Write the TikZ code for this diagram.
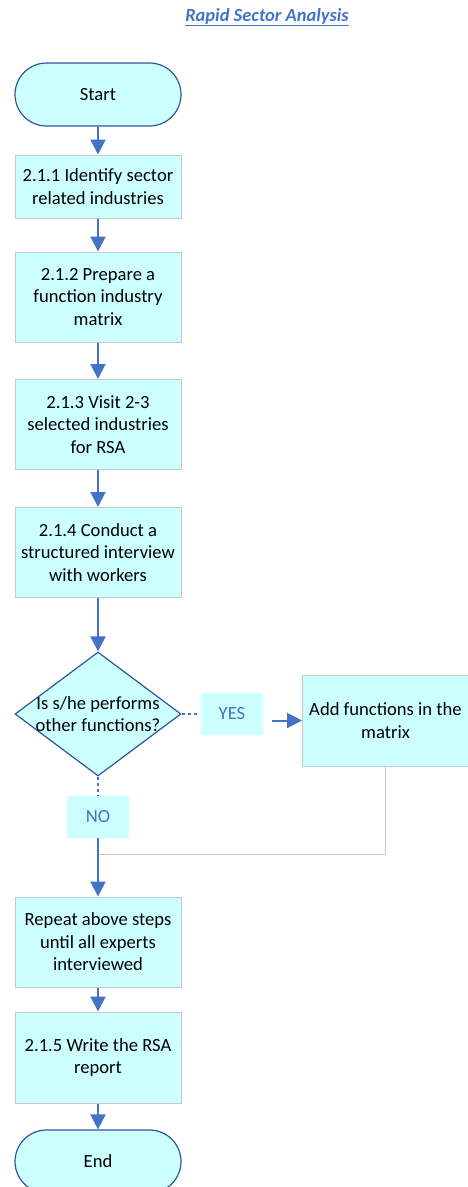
\documentclass[tikz,border=0pt]{standalone}
\usepackage{fontspec}
\setmainfont{Carlito}
\usetikzlibrary{arrows.meta,shapes.geometric}
\definecolor{boxfill}{HTML}{CCFFFF}
\definecolor{flowblue}{HTML}{4472C4}
\definecolor{edgeblue}{HTML}{2F5597}
\definecolor{boxline}{HTML}{C8C8C8}

\begin{document}
\begin{tikzpicture}[
			x = 1pt, y = -1pt,
			font = \fontsize{18.6}{22.5}\selectfont,
			StepBox/.style={draw=boxline, fill=boxfill, line width=1pt,
				minimum width=166pt, minimum height=#1, align=center, inner sep=0pt},
			StepBox/.default = 90pt,
			Terminal/.style={draw=edgeblue, fill=boxfill, line width=1.2pt,
				rounded corners=31.5pt, minimum width=166pt, minimum height=63pt},
			Answer/.style={fill=boxfill, text=flowblue, minimum width=62pt,
				minimum height=42pt, inner sep=0pt},
			Flow/.style={flowblue, line width=2pt,
				-{Triangle[length=15pt, width=15pt]}},
			Dots/.style={flowblue, line width=2.2pt, dash pattern=on 3pt off 3pt},
			]
			\useasboundingbox (0,0) rectangle (467,1187);
			% heading
			\node [text=flowblue, font=\fontsize{18.5}{22}\selectfont] (title) at (267,17)
				{\bfseries\itshape\underline{Rapid Sector Analysis}};
			% main column
			\node [Terminal] (start) at (98,94.5) {Start};
			\node [StepBox=63pt] (s1) at (98,186.5) {2.1.1 Identify sector\\related industries};
			\node [StepBox] (s2) at (98,297) {2.1.2 Prepare a\\function industry\\matrix};
			\node [StepBox] (s3) at (98,424.5) {2.1.3 Visit 2-3\\selected industries\\for RSA};
			\node [StepBox] (s4) at (98,552.5) {2.1.4 Conduct a\\structured interview\\with workers};
			\node [diamond, draw=edgeblue, fill=boxfill, line width=1.2pt,
				minimum width=166pt, minimum height=124pt, inner sep=0pt] (dec) at (98,714) {};
			\node [align=center] (dectext) at (dec.center) {Is s/he performs\\other functions?};
			\node [Answer] (yes) at (232,714) {YES};
			\node [StepBox=91pt] (add) at (385.5,720.5) {Add functions in the\\matrix};
			\node [Answer] (no) at (98,816.5) {NO};
			\coordinate (join) at (98,854);
			\node [StepBox] (s5) at (98,942) {Repeat above steps\\until all experts\\interviewed};
			\node [StepBox=91pt] (s6) at (98,1057.5) {2.1.5 Write the RSA\\report};
			\node [Terminal] (end) at (98,1161.5) {End};
			% connectors
			\draw [Flow] (start) -- (s1);
			\draw [Flow] (s1) -- (s2);
			\draw [Flow] (s2) -- (s3);
			\draw [Flow] (s3) -- (s4);
			\draw [Flow] (s4) -- (dec);
			\draw [Dots] (dec.east) -- ([xshift=-3pt]yes.west);
			\draw [Flow] ([xshift=9pt]yes.east |- add.west) -- (add.west);
			\draw [Dots] (dec.south) -- (no.north);
			\draw [boxline, line width=1pt] (add.south) |- (join);
			\draw [Flow] (no) -- (s5);
			\draw [Flow] (s5) -- (s6);
			\draw [Flow] (s6) -- (end);
		\end{tikzpicture}
\end{document}
